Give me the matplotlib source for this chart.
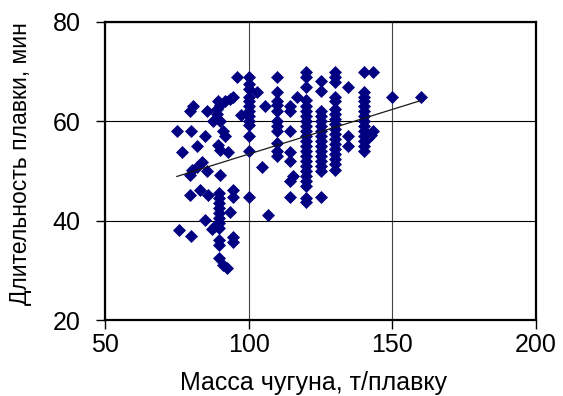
import matplotlib
matplotlib.use('Agg')
import matplotlib.pyplot as plt
import numpy as np

#------------------------------------------------------------------------------
# hot metal mass, t per heat  /  heat duration, min
mass_t = [
    # left cluster, below 100 t
    96, 94.6, 93.5, 91.8, 89.4, 90, 80.7, 79.6, 85.4, 89, 89, 97.5, 87.7, 90,
    74.9, 79.8, 91.2, 91.8, 84.8, 81.9, 89.4, 90, 92.8, 76.7, 83.6, 81.9, 80.2,
    79.6, 85.4, 90, 79.6, 83.1, 86, 89.8, 89.8, 89.8, 89.8, 89.8, 89.8, 89.8,
    89.8, 94.6, 94.6, 93.5, 84.8, 87.1, 88.3, 75.9, 79.8, 89.8, 89.8, 94.6,
    94.6, 89.8, 91.2, 92.3,
    # around 100 t
    100, 100, 100, 100, 100, 100, 100, 100, 100, 100, 100, 100, 100,
    102.8, 105.7, 104.5, 106.8,
    # 110 t
    110, 110, 110, 110, 110, 110, 110, 110, 110, 110, 110,
    116.7, 114.4, 114.4, 114.4, 114.4, 114.4, 115.5, 114.4, 114.4,
    # 120 t
    120, 120, 120, 120, 120, 120, 120, 120, 120, 120, 120, 120, 120, 120, 120,
    120, 120, 120, 120, 120, 120, 120, 120,
    # 125 t
    125, 125, 125, 125, 125, 125, 125, 125, 125, 125, 125, 125, 125, 125, 125,
    125,
    # 130 t
    130, 130, 130, 130, 130, 130, 130, 130, 130, 130, 130, 130, 130, 130, 130,
    130, 130, 130,
    134.7, 134.7, 134.7,
    # 140 t
    140, 140, 140, 140, 140, 140, 140, 140, 140, 140, 140, 140, 140, 140,
    143.4, 143.4, 142.5, 141.6,
    150, 160,
]
duration_min = [
    69, 65, 64.4, 64, 64, 63.3, 63, 62, 62, 62.5, 61.5, 61.3, 60, 60,
    58, 58, 58, 57, 57, 55, 55.2, 54.2, 53.9, 53.9, 51.9, 50.9, 50.2,
    49.2, 49.9, 49.2, 45.2, 46.2, 45.2, 45.5, 44.5, 43.5, 42.5, 41.5, 40.5, 39.5,
    38.6, 46.2, 44.8, 41.8, 40.1, 38.4, 39.0, 38.1, 36.9, 36.1, 35.1, 36.8,
    35.8, 32.4, 31.1, 30.4,
    69, 67.5, 66.5, 65, 64, 63, 62, 61, 60, 59.3, 57, 54, 44.8,
    66, 63, 50.9, 41.1,
    69, 66, 64, 63.3, 62, 60, 59, 58, 55.6, 54, 53,
    65, 63, 62, 58, 53.9, 52, 48.9, 47.9, 44.8,
    70, 69, 67, 64.3, 63, 62, 61, 60, 59, 58, 57, 56, 55, 54, 53,
    52, 51, 50, 49, 48, 47, 44.6, 43.8,
    68.2, 66.2, 62, 61, 60, 59, 58, 57, 56, 55, 54, 53, 52, 51, 50,
    44.8,
    70, 69, 68, 65, 64, 62.5, 61.5, 60.5, 59.5, 58.5, 57.5, 56.5, 55.5,
    54.5, 53.5, 52.5, 51.5, 50.2,
    67, 57, 55,
    70, 66, 65, 64, 63, 62, 61, 60, 59, 58, 57, 56, 55, 54,
    70, 58, 57.3, 56.6,
    65, 65,
]

# linear trend line as drawn in the original
trend_x = [75, 160]
trend_y = [48.9, 64.2]

x_ticks = [50, 100, 150, 200]
y_ticks = [20, 40, 60, 80]
#------------------------------------------------------------------------------
plt.rcParams['font.family'] = ['Liberation Sans', 'DejaVu Sans']

fig = plt.figure(figsize=(5.63, 3.96), dpi=100)
ax = fig.add_axes([105/563, 1 - 320/396, (536 - 105)/563, (320 - 22)/396])

ax.scatter(mass_t, duration_min, marker='D', s=44, color='#000080',
           linewidths=0, zorder=3)
ax.plot(trend_x, trend_y, color='#1a1a1a', linewidth=0.9, zorder=4)

#--------------axis limits and ticks-------------------------------------------
ax.set_xlim(50, 200)
ax.set_ylim(20, 80)
ax.set_xticks(x_ticks)
ax.set_yticks(y_ticks)
ax.tick_params(axis='both', labelsize=18, direction='out', length=6.5,
               width=1, colors='black')
ax.tick_params(axis='x', pad=3)
ax.tick_params(axis='y', pad=11)

#--------------grid-----------------------------------------------------------
ax.grid(axis='y', color='black', linewidth=0.8, zorder=0)
ax.grid(axis='x', color='#444444', linewidth=0.8, zorder=0)
ax.set_axisbelow(True)
for sp in ax.spines.values():
    sp.set_linewidth(1.6)
    sp.set_color('black')

#--------------labels----------------------------------------------------------
ax.set_xlabel('Масса чугуна, т/плавку', fontsize=18)
ax.xaxis.set_label_coords((313 - 105)/431, (320 - 390)/298)
ax.xaxis.label.set_va('baseline')
ax.set_ylabel('Длительность плавки, мин', fontsize=16.5)
ax.yaxis.set_label_coords((21 - 105)/431, 1 - (164 - 22)/298)
ax.yaxis.label.set_va('center')

plt.savefig('out.png', dpi=100)
